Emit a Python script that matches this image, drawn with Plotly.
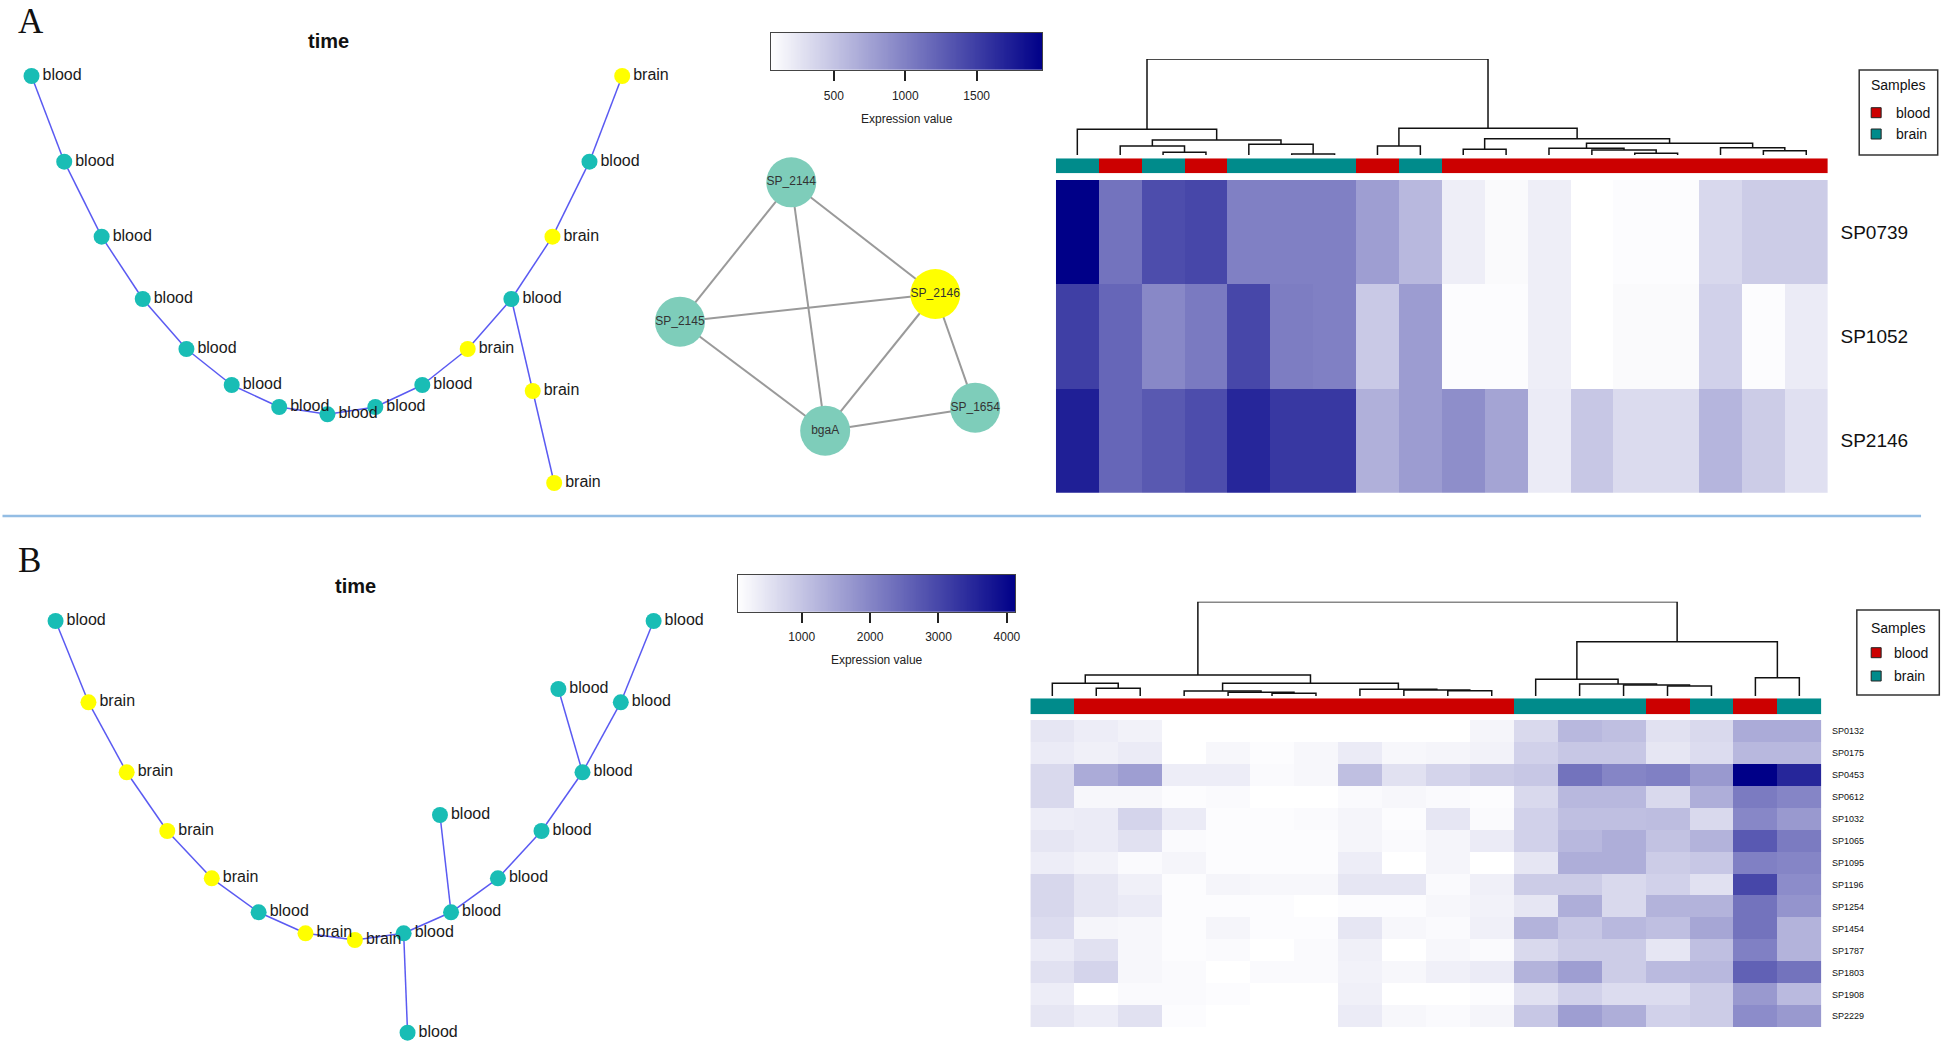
import numpy as np
import plotly.graph_objects as go

W, H = 1946, 1044
FONT = "Liberation Sans, Arial, sans-serif"

# ---------------- data ----------------
# Panel A: pseudotime tree (layout coordinates, y downward)
treeA_labels = ["blood", "blood", "blood", "blood", "blood", "blood", "blood", "blood", "blood",
                "blood", "brain", "blood", "brain", "blood", "brain", "brain", "brain"]
treeA_x = [31.6, 64.4, 101.9, 143.1, 186.9, 232.3, 279.9, 328.3, 376.3, 423.4, 468.9, 512.7,
           553.9, 591.0, 623.8, 534.1, 555.6]
treeA_y = [76, 161.7, 236.7, 299, 349, 385, 407, 414.3, 407, 385, 349, 299, 236.7, 161.7, 76,
           391, 483]
treeA_edges = [(0, 1), (1, 2), (2, 3), (3, 4), (4, 5), (5, 6), (6, 7), (7, 8), (8, 9), (9, 10),
               (10, 11), (11, 12), (12, 13), (13, 14), (11, 15), (15, 16)]

# Panel B: pseudotime tree
treeB_labels = ["blood", "brain", "brain", "brain", "brain", "blood", "brain", "brain", "blood",
                "blood", "blood", "blood", "blood", "blood", "blood", "blood", "blood", "blood"]
treeB_x = [55.7, 88.7, 127.0, 167.7, 212.3, 259.3, 306.3, 355.8, 404.7, 452.2, 499.2, 542.9,
           584.0, 622.4, 655.3, 559.8, 441.1, 408.6]
treeB_y = [621, 702.3, 772.3, 831, 878.3, 912.3, 933.3, 940, 933.3, 912.3, 878.3, 831, 772.3,
           702.3, 621, 689, 815, 1032.7]
treeB_edges = [(0, 1), (1, 2), (2, 3), (3, 4), (4, 5), (5, 6), (6, 7), (7, 8), (8, 9), (9, 10),
               (10, 11), (11, 12), (12, 13), (13, 14), (12, 15), (9, 16), (8, 17)]

# Panel A: interaction network
net_names = ["SP_2144", "SP_2146", "SP_2145", "bgaA", "SP_1654"]
net_x = [793.3, 937.7, 681.7, 827.3, 977.7]
net_y = [182.3, 294.0, 321.7, 430.7, 407.7]
net_highlight = [False, True, False, False, False]
net_edges = [("SP_2144", "SP_2145"), ("SP_2144", "bgaA"), ("SP_2144", "SP_2146"),
             ("SP_2145", "SP_2146"), ("SP_2145", "bgaA"), ("SP_2146", "bgaA"),
             ("SP_2146", "SP_1654"), ("bgaA", "SP_1654")]

# Panel A heatmap
hmA_rows = ["SP0739", "SP1052", "SP2146"]
hmA_groups = ["brain", "blood", "brain", "blood", "brain", "brain", "brain", "blood", "brain",
              "blood", "blood", "blood", "blood", "blood", "blood", "blood", "blood", "blood"]
hmA_SP0739 = [1960, 1100, 1390, 1430, 1010, 1010, 1010, 780, 590, 190, 100, 190, 60, 80, 80, 350, 440, 440]
hmA_SP1052 = [1490, 1200, 950, 1050, 1430, 1030, 1010, 460, 800, 80, 80, 190, 60, 100, 100, 400, 80, 210]
hmA_SP2146 = [1730, 1200, 1300, 1390, 1680, 1540, 1540, 650, 800, 900, 740, 210, 480, 330, 330, 610, 440, 290]
# column dendrogram A: (child a, child b, height); clusters numbered from 18
dendA = [(2, 3, 2.7), (5, 6, 1.0), (1, 18, 9.0), (4, 19, 10.7), (20, 21, 15.0), (0, 22, 25.7),
         (7, 8, 9.0), (9, 10, 5.7), (13, 14, 1.7), (12, 26, 5.0), (11, 27, 6.7), (16, 17, 4.3),
         (15, 29, 7.3), (28, 30, 11.7), (25, 31, 16.3), (24, 32, 26.7), (23, 33, 96.0)]
cbA_ticks = [500, 1000, 1500]

# Panel B heatmap
hmB_rows = ["SP0132", "SP0175", "SP0453", "SP0612", "SP1032", "SP1065", "SP1095", "SP1196",
            "SP1254", "SP1454", "SP1787", "SP1803", "SP1908", "SP2229"]
hmB_groups = ["brain", "blood", "blood", "blood", "blood", "blood", "blood", "blood", "blood",
              "blood", "blood", "brain", "brain", "brain", "blood", "brain", "blood", "brain"]
hmB_SP0132 = [470, 350, 270, 70, 70, 70, 70, 70, 70, 70, 230, 670, 1200, 1080, 550, 670, 1400, 1400]
hmB_SP0175 = [390, 310, 390, 70, 190, 110, 190, 390, 190, 230, 270, 800, 960, 960, 470, 630, 1200, 1200]
hmB_SP0453 = [670, 1400, 1610, 350, 350, 150, 190, 1080, 550, 760, 880, 960, 2300, 2010, 2090, 1690, 4120, 3510]
hmB_SP0612 = [670, 190, 190, 110, 150, 70, 70, 150, 190, 150, 110, 670, 1200, 1200, 670, 1360, 2170, 2010]
hmB_SP1032 = [350, 390, 760, 390, 110, 110, 150, 230, 110, 470, 150, 800, 1080, 1080, 1120, 670, 1970, 1690]
hmB_SP1065 = [470, 390, 550, 150, 110, 110, 110, 230, 150, 230, 390, 800, 1200, 1360, 1040, 1280, 2700, 2170]
hmB_SP1095 = [350, 270, 150, 230, 110, 110, 110, 350, 70, 230, 70, 470, 1360, 1360, 880, 960, 2090, 2010]
hmB_SP1196 = [710, 470, 310, 110, 230, 190, 190, 470, 470, 150, 310, 880, 880, 670, 800, 550, 2990, 1890]
hmB_SP1254 = [710, 470, 390, 110, 110, 110, 70, 110, 110, 190, 270, 470, 1360, 670, 1280, 1280, 2300, 1770]
hmB_SP1454 = [630, 230, 190, 110, 230, 110, 110, 470, 190, 150, 310, 1280, 960, 1200, 1080, 1490, 2300, 1280]
hmB_SP1787 = [390, 550, 190, 110, 150, 70, 150, 310, 70, 190, 150, 670, 880, 880, 470, 1080, 2090, 1280]
hmB_SP1803 = [550, 760, 190, 150, 70, 150, 150, 270, 190, 310, 390, 1280, 1610, 880, 1160, 1200, 2580, 2300]
hmB_SP1908 = [350, 70, 150, 150, 110, 70, 70, 310, 70, 70, 110, 550, 800, 630, 630, 880, 1690, 1160]
hmB_SP2229 = [470, 350, 550, 110, 70, 70, 70, 390, 190, 150, 230, 960, 1610, 1360, 800, 880, 1890, 1690]
dendB = [(1, 2, 7.7), (0, 18, 12.7), (5, 6, 2.7), (4, 20, 3.7), (3, 21, 5.0), (9, 10, 5.3),
         (8, 23, 6.0), (7, 24, 6.7), (22, 25, 12.7), (19, 26, 21.0), (14, 15, 10.0), (13, 28, 11.0),
         (12, 29, 12.0), (11, 30, 16.7), (16, 17, 18.3), (31, 32, 54.3), (27, 33, 94.3)]
cbB_ticks = [1000, 2000, 3000, 4000]

# ---------------- styles ----------------
TEAL_NODE = "#19BDB5"
YELLOW = "#FFFF00"
EDGE_BLUE = "#5A5AF2"
NET_TEAL = "#7ECDBA"
RED = "#CC0000"
TEAL_ANN = "#008B8B"
CS = [[0, "#FFFFFF"], [1, "#000088"]]


def dom_x(x0, x1):
    return [x0 / W, x1 / W]


def dom_y(y0, y1):
    return [1 - y1 / H, 1 - y0 / H]


HID = dict(showgrid=False, zeroline=False, showticklabels=False, ticks="", showline=False)

fig = go.Figure()
axes = {}


def ax(n):
    s = "" if n == 1 else str(n)
    return "x" + s, "y" + s, "xaxis" + s, "yaxis" + s


def add_tree(n, xs, ys, labels, edges, pxbox):
    xr, yr, xa, ya = ax(n)
    ex, ey = [], []
    for a, b in edges:
        ex += [xs[a], xs[b], None]
        ey += [ys[a], ys[b], None]
    fig.add_trace(go.Scatter(x=ex, y=ey, mode="lines", line=dict(color=EDGE_BLUE, width=1.5),
                             xaxis=xr, yaxis=yr, hoverinfo="skip", cliponaxis=False))
    cols = [TEAL_NODE if l == "blood" else YELLOW for l in labels]
    fig.add_trace(go.Scatter(x=xs, y=ys, mode="markers+text", text=labels,
                             textposition="middle right",
                             textfont=dict(size=16, color="#1a1a1a", family=FONT),
                             marker=dict(size=16, color=cols, line=dict(width=0)),
                             xaxis=xr, yaxis=yr, cliponaxis=False))
    x0, x1, y0, y1 = pxbox
    axes[xa] = dict(domain=dom_x(x0, x1), range=[x0, x1], anchor=yr, **HID)
    axes[ya] = dict(domain=dom_y(y0, y1), range=[y1, y0], anchor=xr, **HID)


add_tree(1, treeA_x, treeA_y, treeA_labels, treeA_edges, (0, 700, 40, 520))
add_tree(2, treeB_x, treeB_y, treeB_labels, treeB_edges, (0, 760, 540, 1044))

# network
xr, yr, xa, ya = ax(3)
idx = {n: i for i, n in enumerate(net_names)}
ex, ey = [], []
for a, b in net_edges:
    ex += [net_x[idx[a]], net_x[idx[b]], None]
    ey += [net_y[idx[a]], net_y[idx[b]], None]
fig.add_trace(go.Scatter(x=ex, y=ey, mode="lines", line=dict(color="#9A9A9A", width=2),
                         xaxis=xr, yaxis=yr, hoverinfo="skip", cliponaxis=False))
fig.add_trace(go.Scatter(x=net_x, y=net_y, mode="markers+text", text=net_names,
                         textposition="middle center",
                         textfont=dict(size=12, color="#333333", family=FONT),
                         marker=dict(size=50, color=[YELLOW if h else NET_TEAL for h in net_highlight],
                                     line=dict(width=0)),
                         xaxis=xr, yaxis=yr, cliponaxis=False))
axes[xa] = dict(domain=dom_x(640, 1060), range=[640, 1060], anchor=yr, **HID)
axes[ya] = dict(domain=dom_y(130, 480), range=[480, 130], anchor=xr, **HID)


def add_colorbar(n, zmin, zmax, ticks, pxbox, standoff):
    xr, yr, xa, ya = ax(n)
    vals = np.linspace(zmin, zmax, 300)
    fig.add_trace(go.Heatmap(z=[vals], x=vals, y=[0], colorscale=CS, zmin=zmin, zmax=zmax,
                             showscale=False, xaxis=xr, yaxis=yr, hoverinfo="skip"))
    x0, x1, y0, y1 = pxbox
    axes[xa] = dict(domain=dom_x(x0, x1), range=[zmin, zmax], anchor=yr, tickvals=ticks,
                    ticks="outside", ticklen=10, tickwidth=1.5, tickcolor="#222",
                    showline=True, linecolor="#444", linewidth=1.2, mirror=True,
                    tickfont=dict(size=12, color="#222", family=FONT), ticklabelstandoff=4,
                    title=dict(text="Expression value", font=dict(size=12, color="#222", family=FONT),
                               standoff=standoff),
                    showgrid=False, zeroline=False)
    axes[ya] = dict(domain=dom_y(y0, y1), range=[-0.5, 0.5], anchor=xr, showline=True,
                    linecolor="#444", linewidth=1.2, mirror=True, showticklabels=False, ticks="",
                    showgrid=False, zeroline=False)


def add_heatmap(n_hm, n_ann, n_den, rows, mat, groups, dend, pxx, py_hm, py_ann, py_den, lab_size):
    zmin = float(np.min(mat))
    zmax = float(np.max(mat))
    ncol = len(groups)
    cols = list(range(ncol))
    # main heatmap
    xr, yr, xa, ya = ax(n_hm)
    fig.add_trace(go.Heatmap(z=mat, x=cols, y=rows, colorscale=CS, zmin=zmin, zmax=zmax,
                             showscale=False, xaxis=xr, yaxis=yr, hoverinfo="skip"))
    axes[xa] = dict(domain=dom_x(*pxx), range=[-0.5, ncol - 0.5], anchor=yr, **HID)
    axes[ya] = dict(domain=dom_y(*py_hm), anchor=xr, side="right", autorange="reversed",
                    ticks="outside", ticklen=8, tickcolor="rgba(0,0,0,0)",
                    tickfont=dict(size=lab_size, color="#111", family=FONT),
                    showgrid=False, zeroline=False, showline=False)
    # annotation bar
    xr, yr, xa, ya = ax(n_ann)
    fig.add_trace(go.Heatmap(z=[[1 if g == "brain" else 0 for g in groups]], x=cols, y=[0],
                             colorscale=[[0, RED], [0.5, RED], [0.5, TEAL_ANN], [1, TEAL_ANN]],
                             zmin=0, zmax=1, showscale=False, xaxis=xr, yaxis=yr, hoverinfo="skip"))
    axes[xa] = dict(domain=dom_x(*pxx), range=[-0.5, ncol - 0.5], anchor=yr, **HID)
    axes[ya] = dict(domain=dom_y(*py_ann), range=[-0.5, 0.5], anchor=xr, **HID)
    # dendrogram
    xr, yr, xa, ya = ax(n_den)
    pos = {i: (float(i), 0.0) for i in range(ncol)}
    dx, dy = [], []
    for k, (a, b, h) in enumerate(dend):
        xa_, ha = pos[a]
        xb_, hb = pos[b]
        dx += [xa_, xa_, xb_, xb_, None]
        dy += [ha, h, h, hb, None]
        pos[ncol + k] = ((xa_ + xb_) / 2, h)
    top = max(d[2] for d in dend)
    fig.add_trace(go.Scatter(x=dx, y=dy, mode="lines", line=dict(color="#111", width=1.5),
                             xaxis=xr, yaxis=yr, hoverinfo="skip", cliponaxis=False))
    axes[xa] = dict(domain=dom_x(*pxx), range=[-0.5, ncol - 0.5], anchor=yr, **HID)
    axes[ya] = dict(domain=dom_y(*py_den), range=[0, top], anchor=xr, **HID)
    return zmin, zmax


matA = [hmA_SP0739, hmA_SP1052, hmA_SP2146]
zA0, zA1 = add_heatmap(6, 7, 8, hmA_rows, matA, hmA_groups, dendA, (1058.6, 1832.4),
                       (180, 492.7), (158.3, 173.3), (59, 155), 19)
matB = [hmB_SP0132, hmB_SP0175, hmB_SP0453, hmB_SP0612, hmB_SP1032, hmB_SP1065, hmB_SP1095,
        hmB_SP1196, hmB_SP1254, hmB_SP1454, hmB_SP1787, hmB_SP1803, hmB_SP1908, hmB_SP2229]
zB0, zB1 = add_heatmap(9, 10, 11, hmB_rows, matB, hmB_groups, dendB, (1033, 1826),
                       (720, 1027.3), (698.3, 714.3), (601.7, 696), 9)

add_colorbar(4, zA0, zA1, cbA_ticks, (773, 1045, 32.7, 70), 13)
add_colorbar(5, zB0, zB1, cbB_ticks, (740, 1017.7, 575, 611.7), 12)

# ---------------- annotations & legend boxes ----------------
annots = []
shapes = []


def txt(x, y, s, size, **kw):
    d = dict(x=x / W, y=1 - y / H, xref="paper", yref="paper", text=s, showarrow=False,
             font=dict(size=size, color=kw.pop("color", "#111"), family=kw.pop("family", FONT)),
             xanchor=kw.pop("xanchor", "center"), yanchor=kw.pop("yanchor", "middle"))
    d.update(kw)
    annots.append(d)


SERIF = "Liberation Serif, Times New Roman, serif"
txt(31, 0, "A", 35, family=SERIF, yanchor="top")
txt(30, 539, "B", 35, family=SERIF, yanchor="top")
txt(329, 41, "<b>time</b>", 20)
txt(356, 585.7, "<b>time</b>", 20)


def rect(x0, y0, x1, y1, **kw):
    shapes.append(dict(type="rect", xref="paper", yref="paper", x0=x0 / W, x1=x1 / W,
                       y0=1 - y1 / H, y1=1 - y0 / H, **kw))


def legend_box(x0, y0, x1, y1, ytitle, yblood, ybrain, xsq, xtxt):
    rect(x0, y0, x1, y1, line=dict(color="#333", width=1.5), fillcolor="rgba(0,0,0,0)")
    txt((x0 + x1) / 2, ytitle, "Samples", 14)
    rect(xsq, yblood - 5, xsq + 10, yblood + 5, line=dict(color="#222", width=1), fillcolor=RED)
    rect(xsq, ybrain - 5, xsq + 10, ybrain + 5, line=dict(color="#222", width=1), fillcolor=TEAL_ANN)
    txt(xtxt, yblood, "blood", 14, xanchor="left")
    txt(xtxt, ybrain, "brain", 14, xanchor="left")


legend_box(1864, 70, 1942.7, 155, 85, 112.7, 134, 1876, 1899)
legend_box(1861.6, 610, 1944.3, 695, 628, 652.7, 676, 1876, 1897)

# separator line between panels
shapes.append(dict(type="line", xref="paper", yref="paper", x0=2.5 / W, x1=1926 / W,
                   y0=1 - 516 / H, y1=1 - 516 / H, line=dict(color="#93BDE4", width=2.5)))

fig.update_layout(width=W, height=H, margin=dict(l=0, r=0, t=0, b=0),
                  paper_bgcolor="white", plot_bgcolor="rgba(0,0,0,0)", showlegend=False,
                  font=dict(family=FONT), annotations=annots, shapes=shapes, **axes)

fig.write_html("out.html", config={"displayModeBar": False},
               post_script="document.body.style.margin='0px';document.body.style.overflow='hidden';")
